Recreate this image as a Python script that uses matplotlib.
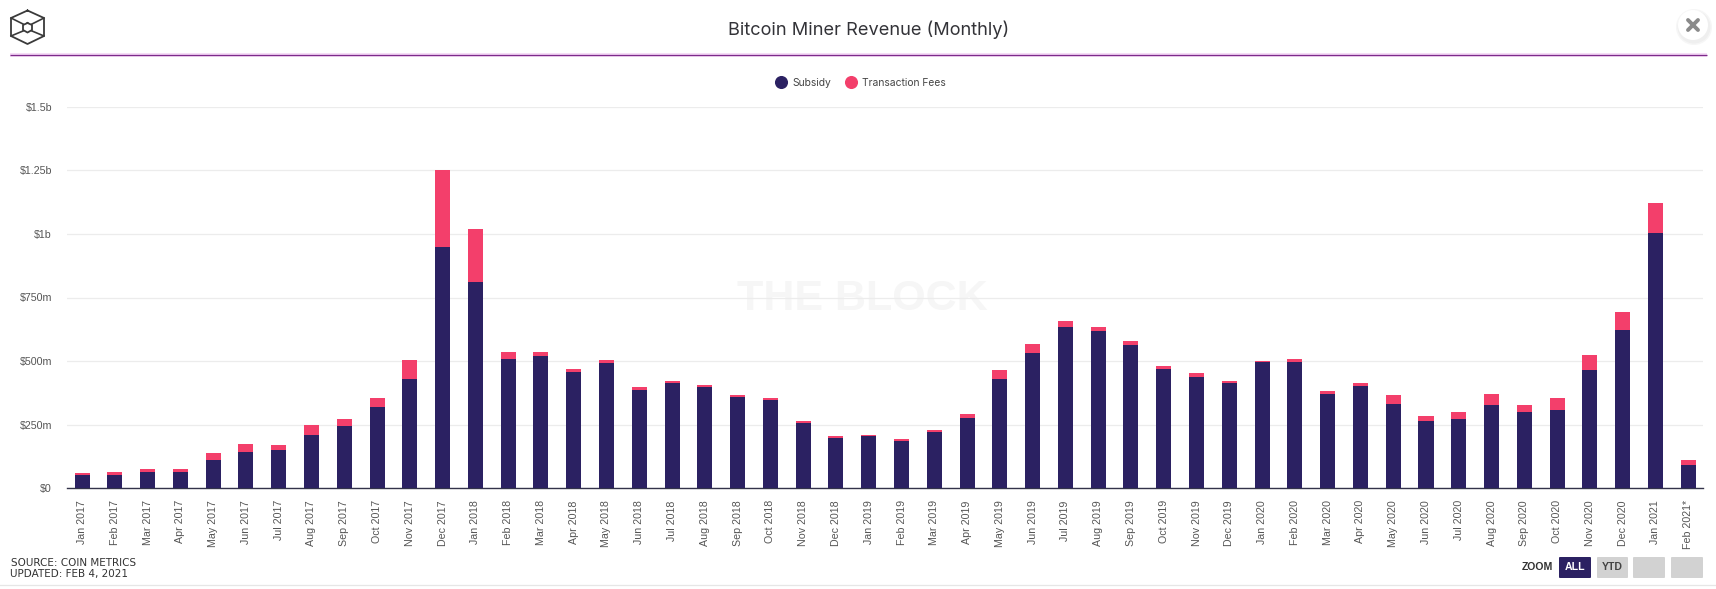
import matplotlib
matplotlib.use("Agg")
import matplotlib.pyplot as plt
from matplotlib.lines import Line2D
from matplotlib.patches import Circle, FancyBboxPatch

months = ["Jan", "Feb", "Mar", "Apr", "May", "Jun", "Jul", "Aug", "Sep", "Oct", "Nov", "Dec"]
labels = [f"{months[i % 12]} {2017 + i // 12}" for i in range(49)] + ["Feb 2021*"]

# $ millions
subsidy = [54, 52, 66, 66, 111, 143, 152, 210, 245, 321, 431, 950, 812,
           508, 521, 458, 494, 386, 415, 398, 360, 347, 257, 198, 207,
           186, 221, 276, 430, 533, 635, 617, 565, 470, 438, 415, 495, 496,
           372, 403, 333, 266, 274, 328, 301, 309, 465, 624, 1005, 92]
fees = [5, 11, 9, 9, 27, 33, 17, 38, 26, 33, 75, 300, 206,
        26, 13, 10, 9, 11, 6, 7, 5, 7, 6, 6, 1,
        7, 7, 15, 34, 34, 21, 16, 13, 9, 14, 6, 4, 11,
        9, 10, 32, 17, 25, 41, 25, 45, 58, 68, 115, 18]
ytick_vals = [0, 250, 500, 750, 1000, 1250, 1500]
ytick_labels = ["$0", "$250m", "$500m", "$750m", "$1b", "$1.25b", "$1.5b"]

NAVY = "#2b2162"
PINK = "#f33f6b"
W, H = 1716, 589

fig = plt.figure(figsize=(W / 100, H / 100), dpi=100, facecolor="white")
L, R, T, B = 67, 1703, 106.7, 488.3
ax = fig.add_axes([L / W, 1 - B / H, (R - L) / W, (B - T) / H])

xs = list(range(len(labels)))
ax.bar(xs, subsidy, width=0.458, color=NAVY, zorder=3, label="Subsidy")
ax.bar(xs, fees, bottom=subsidy, width=0.458, color=PINK, zorder=3, label="Transaction Fees")

ax.set_xlim(-0.458, 49.45)
ax.set_ylim(0, 1500)
ax.set_yticks(ytick_vals, ytick_labels)
ax.set_xticks(xs, labels, rotation=90)
ax.tick_params(axis="x", length=0, pad=8.6, labelsize=7.7, labelcolor="#555555")
ax.tick_params(axis="y", length=0, pad=10.8, labelsize=7.7, labelcolor="#555555")
for t in ax.get_xticklabels() + ax.get_yticklabels():
    t.set_family("Liberation Sans")
ax.grid(axis="y", color="#ececec", lw=0.9, zorder=1)
ax.set_axisbelow(True)
for s in ["top", "left", "right"]:
    ax.spines[s].set_visible(False)
ax.spines["bottom"].set_color("#33334a")
ax.spines["bottom"].set_linewidth(1.0)

handles = [Line2D([], [], ls="", marker="o", ms=8.4, color=NAVY),
           Line2D([], [], ls="", marker="o", ms=8.4, color=PINK)]
leg = ax.legend(handles, ["Subsidy", "Transaction Fees"], ncol=2, frameon=False,
                loc="center", bbox_to_anchor=((860 - L) / (R - L), (B - 83) / (B - T)),
                prop={"family": "Inter", "size": 7.4}, labelcolor="#444444",
                handletextpad=0.45, columnspacing=1.15, handlelength=1.4)

# page furniture in pixel coordinates
ov = fig.add_axes([0, 0, 1, 1], zorder=-1)
top = fig.add_axes([0, 0, 1, 1], zorder=5)
for a in (ov, top):
    a.set_xlim(0, W)
    a.set_ylim(H, 0)
    a.axis("off")
    a.patch.set_alpha(0)
ax.patch.set_alpha(0)

ov.text(862, 299, "THE BLOCK", ha="center", va="center", family="Liberation Sans",
        weight="bold", size=31, color="#f6f6f6")

top.text(869, 30, "Bitcoin Miner Revenue (Monthly)", ha="center", va="center",
         family="Inter", size=13.1, color="#333338")
top.plot([10, 1707], [55, 55], color="#f3d6f5", lw=2.6, solid_capstyle="butt")
top.plot([10, 1707], [55, 55], color="#7d2a8a", lw=0.9, solid_capstyle="butt")
top.plot([0, 1716], [585, 585], color="#e6e6e6", lw=0.9)

# logo
lc = "#3a3a3a"
hx = [27.5, 44, 44, 27.5, 11, 11, 27.5]
hy = [10.5, 18, 36, 44, 36, 18, 10.5]
top.plot(hx, hy, color=lc, lw=1.3)
for x0, y0, x1, y1 in [(11, 18, 23, 24), (44, 18, 32, 24), (11, 36, 23, 31), (44, 36, 32, 31)]:
    top.plot([x0, x1], [y0, y1], color=lc, lw=1.2)
top.plot([27.5, 32, 32, 27.5, 23, 23, 27.5], [23, 25, 30, 32.5, 30, 25, 23], color=lc, lw=1.3)

# close button
for r, c in [(18, "#f6f6f6"), (16.5, "#efefef")]:
    top.add_patch(Circle((1694, 27), r, color=c, lw=0))
top.add_patch(Circle((1693, 25), 15, color="white", lw=0))
top.plot([1688, 1698], [20, 30], color="#8a8a8a", lw=2.8, solid_capstyle="round")
top.plot([1688, 1698], [30, 20], color="#8a8a8a", lw=2.8, solid_capstyle="round")

# footer
top.text(11, 562.5, "SOURCE: COIN METRICS", va="center", family="DejaVu Sans", size=7.5,
         color="#333333")
top.text(10, 574, "UPDATED: FEB 4, 2021", va="center", family="DejaVu Sans", size=7.5,
         color="#333333")

# zoom buttons
top.text(1537.5, 567.5, "ZOOM", ha="center", va="center", family="Liberation Sans",
         weight="bold", size=7.6, color="#333333")
for x0, x1, c in [(1559, 1591, NAVY), (1597, 1628, "#d2d2d2"),
                  (1633, 1665, "#d2d2d2"), (1671, 1703, "#d2d2d2")]:
    top.add_patch(FancyBboxPatch((x0 + 1, 558), x1 - x0 - 2, 19,
                                 boxstyle="round,pad=1", color=c, lw=0))
top.text(1575, 567.5, "ALL", ha="center", va="center", family="Liberation Sans",
         weight="bold", size=7.6, color="white")
top.text(1612.5, 567.5, "YTD", ha="center", va="center", family="Liberation Sans",
         weight="bold", size=7.6, color="#444444")

fig.savefig("out.png", dpi=100)
